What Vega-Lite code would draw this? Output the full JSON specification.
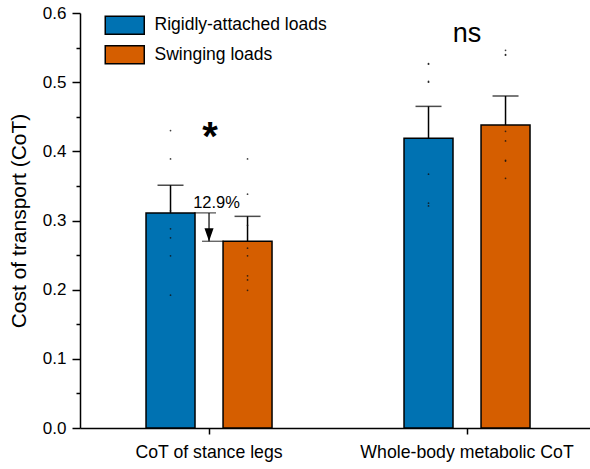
{
  "$schema": "https://vega.github.io/schema/vega-lite/v6.json",
  "width": 510,
  "height": 415,
  "autosize": {"type": "none"},
  "padding": {"left": 80, "top": 13, "right": 0, "bottom": 41},
  "background": "white",
  "config": {
    "view": {"stroke": null},
    "font": "Liberation Sans",
    "axis": {
      "domainColor": "black", "domainWidth": 1.5, "tickColor": "black", "tickWidth": 1.5,
      "labelColor": "black", "labelFont": "Liberation Sans", "titleFont": "Liberation Sans",
      "grid": false, "labelFontSize": 17, "titleFontSize": 21, "titleFontWeight": "normal", "titleColor": "black", "labelLimit": 400
    }
  },
  "datasets": {
    "bars": [
      {"category": "CoT of stance legs", "group": "Rigidly-attached loads", "mean": 0.311, "upper": 0.351},
      {"category": "CoT of stance legs", "group": "Swinging loads", "mean": 0.270, "upper": 0.306},
      {"category": "Whole-body metabolic CoT", "group": "Rigidly-attached loads", "mean": 0.419, "upper": 0.465},
      {"category": "Whole-body metabolic CoT", "group": "Swinging loads", "mean": 0.438, "upper": 0.480}
    ],
    "points": [
      {"category": "CoT of stance legs", "group": "Rigidly-attached loads", "value": 0.430},
      {"category": "CoT of stance legs", "group": "Rigidly-attached loads", "value": 0.389},
      {"category": "CoT of stance legs", "group": "Rigidly-attached loads", "value": 0.314},
      {"category": "CoT of stance legs", "group": "Rigidly-attached loads", "value": 0.288},
      {"category": "CoT of stance legs", "group": "Rigidly-attached loads", "value": 0.275},
      {"category": "CoT of stance legs", "group": "Rigidly-attached loads", "value": 0.249},
      {"category": "CoT of stance legs", "group": "Rigidly-attached loads", "value": 0.192},
      {"category": "CoT of stance legs", "group": "Swinging loads", "value": 0.389},
      {"category": "CoT of stance legs", "group": "Swinging loads", "value": 0.338},
      {"category": "CoT of stance legs", "group": "Swinging loads", "value": 0.293},
      {"category": "CoT of stance legs", "group": "Swinging loads", "value": 0.260},
      {"category": "CoT of stance legs", "group": "Swinging loads", "value": 0.249},
      {"category": "CoT of stance legs", "group": "Swinging loads", "value": 0.220},
      {"category": "CoT of stance legs", "group": "Swinging loads", "value": 0.214},
      {"category": "CoT of stance legs", "group": "Swinging loads", "value": 0.199},
      {"category": "Whole-body metabolic CoT", "group": "Rigidly-attached loads", "value": 0.527},
      {"category": "Whole-body metabolic CoT", "group": "Rigidly-attached loads", "value": 0.526},
      {"category": "Whole-body metabolic CoT", "group": "Rigidly-attached loads", "value": 0.501},
      {"category": "Whole-body metabolic CoT", "group": "Rigidly-attached loads", "value": 0.500},
      {"category": "Whole-body metabolic CoT", "group": "Rigidly-attached loads", "value": 0.367},
      {"category": "Whole-body metabolic CoT", "group": "Rigidly-attached loads", "value": 0.325},
      {"category": "Whole-body metabolic CoT", "group": "Rigidly-attached loads", "value": 0.321},
      {"category": "Whole-body metabolic CoT", "group": "Swinging loads", "value": 0.546},
      {"category": "Whole-body metabolic CoT", "group": "Swinging loads", "value": 0.540},
      {"category": "Whole-body metabolic CoT", "group": "Swinging loads", "value": 0.539},
      {"category": "Whole-body metabolic CoT", "group": "Swinging loads", "value": 0.429},
      {"category": "Whole-body metabolic CoT", "group": "Swinging loads", "value": 0.415},
      {"category": "Whole-body metabolic CoT", "group": "Swinging loads", "value": 0.387},
      {"category": "Whole-body metabolic CoT", "group": "Swinging loads", "value": 0.386},
      {"category": "Whole-body metabolic CoT", "group": "Swinging loads", "value": 0.361}
    ],
    "diff": [
      {"category": "CoT of stance legs", "hi": 0.311, "lo": 0.270}
    ],
    "minor": [{"v": 0}]
  },
  "layer": [
    {
      "layer": [
        {
          "data": {"name": "bars"},
          "mark": {"type": "bar", "stroke": "black", "strokeWidth": 1.5},
          "encoding": {
            "x": {"field": "category", "type": "nominal", "sort": ["CoT of stance legs", "Whole-body metabolic CoT"],
                  "scale": {"paddingInner": 0.5116, "paddingOuter": 0.2442, "align": 0.524},
                  "axis": {"title": null, "labelAngle": 0, "tickSize": 6, "labelPadding": 9, "labelFontSize": 17.7}},
            "xOffset": {"field": "group", "type": "nominal", "sort": ["Rigidly-attached loads", "Swinging loads"],
                        "scale": {"paddingInner": 0.364, "paddingOuter": 0}},
            "y": {"field": "mean", "type": "quantitative", "scale": {"domain": [0, 0.6], "nice": false},
                  "axis": {"title": "Cost of transport (CoT)", "values": [0, 0.1, 0.2, 0.3, 0.4, 0.5, 0.6], "format": ".1f",
                           "tickSize": 8, "labelPadding": 6, "titlePadding": 13}},
            "color": {"field": "group", "type": "nominal",
                      "scale": {"domain": ["Rigidly-attached loads", "Swinging loads"], "range": ["#0072B2", "#D55E00"]},
                      "legend": {"title": null, "orient": "none", "legendX": 33.75, "legendY": 1.25,
                                 "symbolType": "M-1.95,-0.9L1.95,-0.9L1.95,0.9L-1.95,0.9Z", "symbolSize": 400,
                                 "symbolStrokeColor": "black", "symbolStrokeWidth": 1.5, "symbolOpacity": 1,
                                 "labelFontSize": 17.5, "labelOffset": 18.75, "rowPadding": 5.5, "labelLimit": 400,
                                 "labelFont": "Liberation Sans", "labelColor": "black"}}
          }
        },
        {
          "data": {"name": "bars"},
          "mark": {"type": "rule", "color": "black", "strokeWidth": 1.5},
          "encoding": {
            "x": {"field": "category", "type": "nominal", "sort": ["CoT of stance legs", "Whole-body metabolic CoT"]},
            "xOffset": {"field": "group", "type": "nominal", "sort": ["Rigidly-attached loads", "Swinging loads"]},
            "y": {"field": "mean", "type": "quantitative"},
            "y2": {"field": "upper"}
          }
        },
        {
          "data": {"name": "bars"},
          "mark": {"type": "tick", "color": "black", "thickness": 1.5, "size": 26, "orient": "horizontal"},
          "encoding": {
            "x": {"field": "category", "type": "nominal", "sort": ["CoT of stance legs", "Whole-body metabolic CoT"]},
            "xOffset": {"field": "group", "type": "nominal", "sort": ["Rigidly-attached loads", "Swinging loads"]},
            "y": {"field": "upper", "type": "quantitative"}
          }
        },
        {
          "data": {"name": "points"},
          "mark": {"type": "point", "filled": true, "size": 3, "color": "#111111", "opacity": 0.8},
          "encoding": {
            "x": {"field": "category", "type": "nominal", "sort": ["CoT of stance legs", "Whole-body metabolic CoT"]},
            "xOffset": {"field": "group", "type": "nominal", "sort": ["Rigidly-attached loads", "Swinging loads"]},
            "y": {"field": "value", "type": "quantitative"}
          }
        },
        {
          "data": {"name": "diff"},
          "mark": {"type": "rule", "color": "black", "strokeWidth": 1.2},
          "encoding": {
            "x": {"field": "category", "type": "nominal", "sort": ["CoT of stance legs", "Whole-body metabolic CoT"]},
            "y": {"field": "hi", "type": "quantitative"},
            "y2": {"field": "lo"}
          }
        },
        {
          "data": {"name": "diff"},
          "mark": {"type": "tick", "color": "black", "thickness": 1.2, "size": 22, "orient": "horizontal", "xOffset": -4},
          "encoding": {
            "x": {"field": "category", "type": "nominal", "sort": ["CoT of stance legs", "Whole-body metabolic CoT"]},
            "y": {"field": "hi", "type": "quantitative"}
          }
        },
        {
          "data": {"name": "diff"},
          "mark": {"type": "tick", "color": "black", "thickness": 1.2, "size": 22, "orient": "horizontal", "xOffset": 4},
          "encoding": {
            "x": {"field": "category", "type": "nominal", "sort": ["CoT of stance legs", "Whole-body metabolic CoT"]},
            "y": {"field": "lo", "type": "quantitative"}
          }
        },
        {
          "data": {"name": "diff"},
          "mark": {"type": "point", "shape": "M-0.35,-1L0.35,-1L0,0Z", "filled": true, "color": "black", "opacity": 1, "size": 676, "strokeWidth": 0},
          "encoding": {
            "x": {"field": "category", "type": "nominal", "sort": ["CoT of stance legs", "Whole-body metabolic CoT"]},
            "y": {"field": "lo", "type": "quantitative"}
          }
        },
        {
          "data": {"values": [{"category": "CoT of stance legs", "y": 0.402, "label": "*"}]},
          "mark": {"type": "text", "fontSize": 40, "fontWeight": "bold", "baseline": "alphabetic", "align": "center", "color": "black", "dx": 1},
          "encoding": {
            "x": {"field": "category", "type": "nominal", "sort": ["CoT of stance legs", "Whole-body metabolic CoT"]},
            "y": {"field": "y", "type": "quantitative"},
            "text": {"field": "label"}
          }
        },
        {
          "data": {"values": [{"category": "Whole-body metabolic CoT", "y": 0.558, "label": "ns"}]},
          "mark": {"type": "text", "fontSize": 27, "baseline": "alphabetic", "align": "center", "color": "black"},
          "encoding": {
            "x": {"field": "category", "type": "nominal", "sort": ["CoT of stance legs", "Whole-body metabolic CoT"]},
            "y": {"field": "y", "type": "quantitative"},
            "text": {"field": "label"}
          }
        },
        {
          "data": {"values": [{"category": "CoT of stance legs", "y": 0.318, "label": "12.9%"}]},
          "mark": {"type": "text", "fontSize": 16.5, "baseline": "alphabetic", "align": "center", "color": "black", "dx": 7.5},
          "encoding": {
            "x": {"field": "category", "type": "nominal", "sort": ["CoT of stance legs", "Whole-body metabolic CoT"]},
            "y": {"field": "y", "type": "quantitative"},
            "text": {"field": "label"}
          }
        }
      ]
    },
    {
      "data": {"name": "minor"},
      "mark": {"type": "point", "opacity": 0},
      "encoding": {
        "y": {"field": "v", "type": "quantitative",
              "axis": {"orient": "left", "title": null, "labels": false, "domain": false, "tickSize": 4,
                       "values": [0.05, 0.15, 0.25, 0.35, 0.45, 0.55]}}
      }
    }
  ],
  "resolve": {"axis": {"y": "independent"}}
}
